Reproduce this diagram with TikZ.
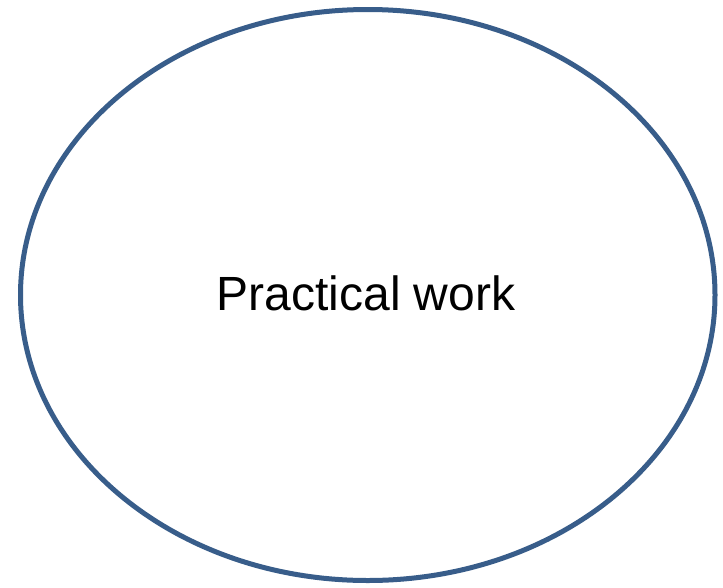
\documentclass[tikz,border=0pt]{standalone}
\usepackage{fontspec}
\setmainfont{Liberation Sans}
\definecolor{ovalblue}{HTML}{385D8A}
\begin{document}
\begin{tikzpicture}[x=1pt,y=-1pt]
        % frame
        \useasboundingbox (0,0) rectangle (723,587);
        % oval
        \draw[ovalblue, line width=5pt] (367.75,295) ellipse (347.25 and 285.5);
        \node[font=\fontsize{48}{57}\selectfont] (work) at (366,293) {Practical work};
      \end{tikzpicture}
\end{document}
